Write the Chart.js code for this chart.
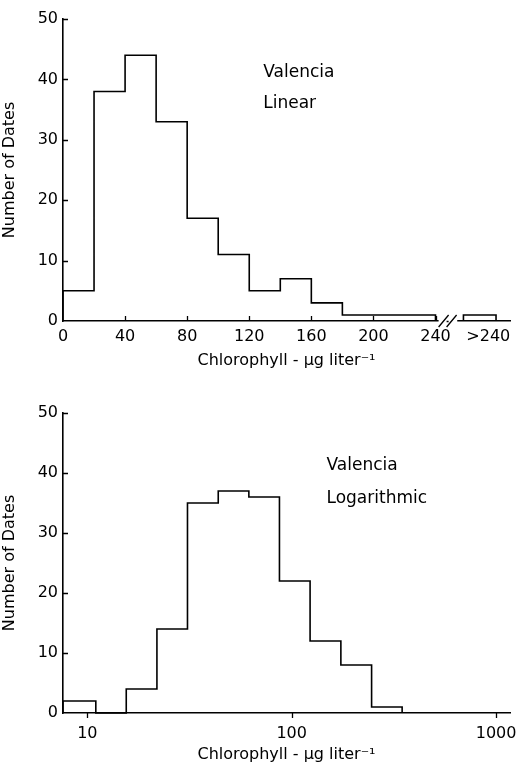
<!DOCTYPE html>
<html>
<head>
<meta charset="utf-8">
<script src="https://cdn.jsdelivr.net/npm/chart.js@4"></script>
<style>
  html, body { margin: 0; padding: 0; background: #fff; }
  #wrap { position: relative; width: 521px; height: 764px; }
  canvas { position: absolute; left: 0; }
  #linear-chart { top: 0; }
  #log-chart { top: 394px; }
</style>
</head>
<body>
<div id="wrap">
  <canvas id="linear-chart" width="521" height="370"></canvas>
  <canvas id="log-chart" width="521" height="370"></canvas>
</div>
<script>
// top panel: linear bins (ug/l)
const linearEdges = [0, 20, 40, 60, 80, 100, 120, 140, 160, 180, 200, 220, 240];
const linearCounts = [5, 38, 44, 33, 17, 11, 5, 7, 3, 1, 1, 1];
const linearTicks = [0, 40, 80, 120, 160, 200, 240];
// the ">240" bin sits past the axis break
const overflowRange = [258, 279];
const overflowCount = 1;
const overflowTick = 274;
const overflowLabel = '>240';

// bottom panel: logarithmic bins
const logEdges = [7.6, 11, 15.5, 21.9, 30.9, 43.7, 61.7, 87.1, 123, 174, 246, 347];
const logCounts = [2, 0, 4, 14, 35, 37, 36, 22, 12, 8, 1];
const logTicks = [10, 100, 1000];

const countTicks = [0, 10, 20, 30, 40, 50];

Chart.defaults.font.family = "'DejaVu Sans', sans-serif";
Chart.defaults.color = '#000';

function stepPoints(edges, counts) {
    const pts = [{ x: edges[0], y: 0 }];
    counts.forEach((c, i) => pts.push({ x: edges[i], y: c }));
    pts.push({ x: edges[edges.length - 1], y: 0 });
    return pts;
}

function lineSet(points, stepped) {
    return {
        data: points,
        stepped: stepped,
        borderColor: '#000',
        borderWidth: 1.6,
        pointRadius: 0,
        fill: false,
        clip: false
    };
}

// small tick marks drawn inside / outside the frame
const tickMarks = {
    id: 'tickMarks',
    afterDraw(chart, args, opts) {
        const { ctx, chartArea, scales: { x, y } } = chart;
        ctx.save();
        ctx.strokeStyle = '#000';
        ctx.lineWidth = 1.3;
        ctx.beginPath();
        y.ticks.forEach(t => {
            if (t.value === 0) return;
            const py = Math.round(y.getPixelForValue(t.value)) + 0.5;
            ctx.moveTo(chartArea.left, py);
            ctx.lineTo(chartArea.left + 5, py);
        });
        x.ticks.forEach(t => {
            if ((opts.skip || []).includes(t.value)) return;
            const px = Math.round(x.getPixelForValue(t.value)) + 0.5;
            ctx.moveTo(px, chartArea.bottom);
            ctx.lineTo(px, chartArea.bottom + opts.dir * 5);
        });
        ctx.stroke();
        ctx.restore();
    }
};

const notes = {
    id: 'notes',
    afterDraw(chart, args, opts) {
        const { ctx, scales: { x, y } } = chart;
        ctx.save();
        ctx.fillStyle = '#000';
        ctx.font = "17px 'DejaVu Sans', sans-serif";
        ctx.textBaseline = 'middle';
        (opts.lines || []).forEach(l => {
            ctx.fillText(l.text, x.getPixelForValue(l.x), y.getPixelForValue(l.y));
        });
        ctx.restore();
    }
};

// the // break on the linear axis
const axisBreak = {
    id: 'axisBreak',
    afterDraw(chart, args, opts) {
        if (!opts.from) return;
        const { ctx, chartArea, scales: { x } } = chart;
        const a = x.getPixelForValue(opts.from);
        const b = x.getPixelForValue(opts.to);
        const yb = chartArea.bottom;
        ctx.save();
        ctx.fillStyle = '#fff';
        ctx.fillRect(a, yb - 2, b - a, 4);
        ctx.strokeStyle = '#000';
        ctx.lineWidth = 1.3;
        ctx.beginPath();
        [a + 5, a + 13].forEach(cx => {
            ctx.moveTo(cx - 5, yb + 6);
            ctx.lineTo(cx + 5, yb - 6);
        });
        ctx.moveTo(a + 8, yb + 0.5);
        ctx.lineTo(a + 10, yb + 0.5);
        ctx.stroke();
        ctx.restore();
    }
};

function yScale() {
    return {
        min: 0,
        max: 50,
        afterFit: s => { s.width = 63; },
        afterBuildTicks: s => { s.ticks = countTicks.map(v => ({ value: v })); },
        grid: { display: false, drawTicks: false },
        border: { display: true, color: '#000', width: 1.6 },
        ticks: { padding: 5, font: { size: 16 } },
        title: {
            display: true,
            text: 'Number of Dates',
            font: { size: 16 },
            padding: { top: 0, bottom: 9 }
        }
    };
}

function xTitle() {
    return {
        display: true,
        text: 'Chlorophyll - µg liter⁻¹',
        font: { size: 16 },
        padding: { top: 4, bottom: 0 }
    };
}

function fitX(h) {
    return s => {
        s.height = h;
        s.paddingLeft = 0;
        s.paddingRight = 0;
    };
}

new Chart(document.getElementById('linear-chart'), {
    type: 'line',
    data: {
        datasets: [
            lineSet(stepPoints(linearEdges, linearCounts), true),
            lineSet([
                { x: overflowRange[0], y: 0 },
                { x: overflowRange[0], y: overflowCount },
                { x: overflowRange[1], y: overflowCount },
                { x: overflowRange[1], y: 0 }
            ], false)
        ]
    },
    options: {
        responsive: false,
        animation: false,
        layout: { padding: { top: 19, right: 11, left: 0, bottom: 0 } },
        scales: {
            x: {
                type: 'linear',
                min: 0,
                max: 288,
                afterFit: fitX(49),
                afterBuildTicks: s => {
                    s.ticks = linearTicks.concat([overflowTick]).map(v => ({ value: v }));
                },
                grid: { display: false, drawTicks: false },
                border: { display: true, color: '#000', width: 1.6 },
                ticks: {
                    padding: 6,
                    maxRotation: 0,
                    font: { size: 16 },
                    callback: v => (v === overflowTick ? overflowLabel : String(v))
                },
                title: xTitle()
            },
            y: yScale()
        },
        plugins: {
            legend: { display: false },
            tooltip: { enabled: false },
            tickMarks: { dir: -1, skip: [0, overflowTick] },
            axisBreak: { from: 242, to: 254 },
            notes: {
                lines: [
                    { text: 'Valencia', x: 129, y: 41.2 },
                    { text: 'Linear', x: 129, y: 36 }
                ]
            }
        }
    },
    plugins: [tickMarks, axisBreak, notes]
});

new Chart(document.getElementById('log-chart'), {
    type: 'line',
    data: {
        datasets: [lineSet(stepPoints(logEdges, logCounts), true)]
    },
    options: {
        responsive: false,
        animation: false,
        layout: { padding: { top: 19, right: 11, left: 0, bottom: 0 } },
        scales: {
            x: {
                type: 'logarithmic',
                min: 7.6,
                max: 1170,
                afterFit: fitX(51),
                afterBuildTicks: s => { s.ticks = logTicks.map(v => ({ value: v })); },
                grid: { display: false, drawTicks: false },
                border: { display: true, color: '#000', width: 1.6 },
                ticks: {
                    padding: 11,
                    maxRotation: 0,
                    autoSkip: false,
                    font: { size: 16 },
                    callback: v => String(v)
                },
                title: xTitle()
            },
            y: yScale()
        },
        plugins: {
            legend: { display: false },
            tooltip: { enabled: false },
            tickMarks: { dir: 1, skip: [] },
            notes: {
                lines: [
                    { text: 'Valencia', x: 148, y: 41.3 },
                    { text: 'Logarithmic', x: 148, y: 35.8 }
                ]
            }
        }
    },
    plugins: [tickMarks, notes]
});
</script>
</body>
</html>
